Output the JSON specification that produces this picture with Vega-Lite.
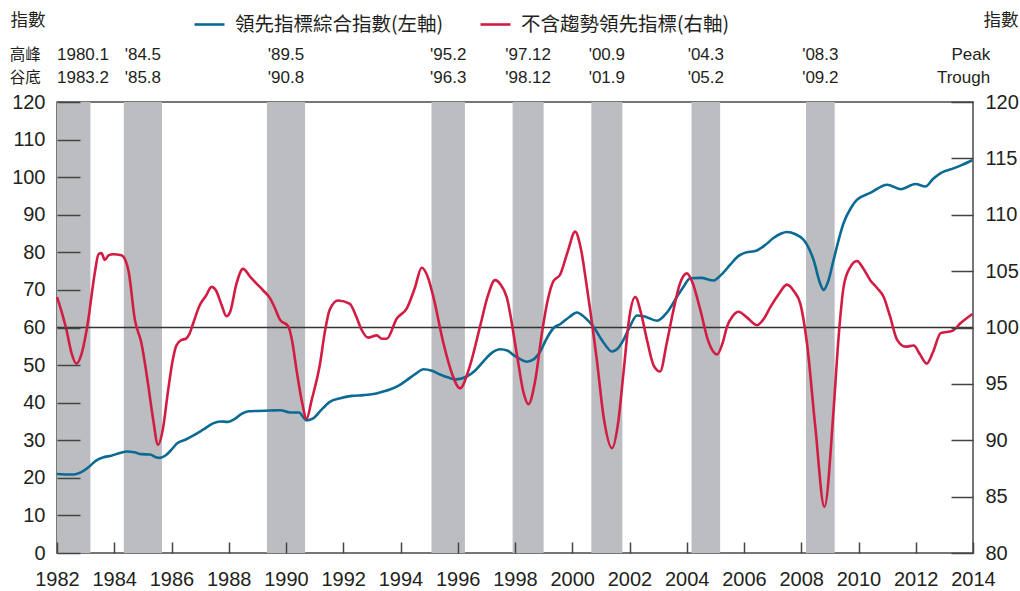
{
  "$schema": "https://vega.github.io/schema/vega-lite/v6.json",
  "width": 916,
  "height": 451,
  "autosize": {"type": "none"},
  "padding": {"left": 57, "top": 102, "right": 47, "bottom": 38},
  "config": {
    "view": {"stroke": "#4a4a4a", "strokeWidth": 1.5},
    "font": "Liberation Sans",
    "axis": {"grid": false, "domain": false, "labelFont": "Liberation Sans", "labelFontSize": 20, "labelColor": "#231f20", "labelOverlap": false}
  },
  "datasets": {
    "one": [{}],
    "bands": [
      {"peak": "1980.1", "trough": "1983.2", "start": 1980.0, "end": 1983.167},
      {"peak": "'84.5", "trough": "'85.8", "start": 1984.333, "end": 1985.667},
      {"peak": "'89.5", "trough": "'90.8", "start": 1989.333, "end": 1990.667},
      {"peak": "'95.2", "trough": "'96.3", "start": 1995.083, "end": 1996.25},
      {"peak": "'97.12", "trough": "'98.12", "start": 1997.917, "end": 1999.0},
      {"peak": "'00.9", "trough": "'01.9", "start": 2000.667, "end": 2001.75},
      {"peak": "'04.3", "trough": "'05.2", "start": 2004.167, "end": 2005.167},
      {"peak": "'08.3", "trough": "'09.2", "start": 2008.167, "end": 2009.167}
    ],
    "cli": [
      {"t": 1982.0, "v": 21.0}, {"t": 1982.3, "v": 20.9}, {"t": 1982.6, "v": 20.9}, {"t": 1982.85, "v": 21.5},
      {"t": 1983.1, "v": 22.8}, {"t": 1983.35, "v": 24.5}, {"t": 1983.6, "v": 25.4}, {"t": 1983.9, "v": 25.9},
      {"t": 1984.2, "v": 26.6}, {"t": 1984.45, "v": 27.0}, {"t": 1984.7, "v": 26.8}, {"t": 1984.95, "v": 26.3},
      {"t": 1985.25, "v": 26.2}, {"t": 1985.45, "v": 25.5}, {"t": 1985.6, "v": 25.3}, {"t": 1985.8, "v": 26.0},
      {"t": 1986.0, "v": 27.5}, {"t": 1986.2, "v": 29.2}, {"t": 1986.5, "v": 30.2}, {"t": 1986.8, "v": 31.4},
      {"t": 1987.1, "v": 32.8}, {"t": 1987.45, "v": 34.5}, {"t": 1987.7, "v": 35.0}, {"t": 1987.98, "v": 34.9},
      {"t": 1988.2, "v": 35.6}, {"t": 1988.45, "v": 37.0}, {"t": 1988.7, "v": 37.7}, {"t": 1989.0, "v": 37.8},
      {"t": 1989.44, "v": 37.9}, {"t": 1989.8, "v": 38.0}, {"t": 1990.14, "v": 37.4}, {"t": 1990.45, "v": 37.4},
      {"t": 1990.72, "v": 35.3}, {"t": 1990.95, "v": 35.8}, {"t": 1991.2, "v": 37.8}, {"t": 1991.53, "v": 40.2},
      {"t": 1991.9, "v": 41.2}, {"t": 1992.3, "v": 41.8}, {"t": 1992.7, "v": 42.0}, {"t": 1993.05, "v": 42.3},
      {"t": 1993.4, "v": 43.0}, {"t": 1993.63, "v": 43.5}, {"t": 1993.95, "v": 44.6}, {"t": 1994.22, "v": 46.0},
      {"t": 1994.55, "v": 47.8}, {"t": 1994.8, "v": 48.9}, {"t": 1995.1, "v": 48.5}, {"t": 1995.38, "v": 47.5},
      {"t": 1995.7, "v": 46.6}, {"t": 1995.96, "v": 46.2}, {"t": 1996.3, "v": 46.9}, {"t": 1996.6, "v": 48.5},
      {"t": 1996.9, "v": 51.0}, {"t": 1997.2, "v": 53.3}, {"t": 1997.48, "v": 54.2}, {"t": 1997.75, "v": 53.8},
      {"t": 1997.94, "v": 52.7}, {"t": 1998.2, "v": 51.5}, {"t": 1998.41, "v": 50.9}, {"t": 1998.65, "v": 51.5},
      {"t": 1998.88, "v": 53.6}, {"t": 1999.1, "v": 57.0}, {"t": 1999.34, "v": 59.8}, {"t": 1999.6, "v": 61.0},
      {"t": 1999.9, "v": 62.8}, {"t": 2000.16, "v": 64.0}, {"t": 2000.45, "v": 62.6}, {"t": 2000.74, "v": 60.2},
      {"t": 2001.05, "v": 56.5}, {"t": 2001.39, "v": 53.6}, {"t": 2001.6, "v": 54.5}, {"t": 2001.79, "v": 56.7},
      {"t": 2002.0, "v": 60.0}, {"t": 2002.26, "v": 63.2}, {"t": 2002.5, "v": 63.0}, {"t": 2002.96, "v": 61.8},
      {"t": 2003.31, "v": 64.0}, {"t": 2003.66, "v": 68.2}, {"t": 2003.9, "v": 71.0}, {"t": 2004.12, "v": 73.1},
      {"t": 2004.5, "v": 73.2}, {"t": 2004.94, "v": 72.5}, {"t": 2005.2, "v": 74.0}, {"t": 2005.52, "v": 76.7},
      {"t": 2005.8, "v": 79.0}, {"t": 2006.0, "v": 79.8}, {"t": 2006.45, "v": 80.5}, {"t": 2006.75, "v": 82.0},
      {"t": 2007.03, "v": 83.8}, {"t": 2007.3, "v": 85.0}, {"t": 2007.5, "v": 85.4}, {"t": 2007.8, "v": 84.8},
      {"t": 2008.09, "v": 83.3}, {"t": 2008.43, "v": 78.0}, {"t": 2008.67, "v": 71.5}, {"t": 2008.78, "v": 70.0},
      {"t": 2008.95, "v": 72.5}, {"t": 2009.13, "v": 78.0}, {"t": 2009.48, "v": 87.8}, {"t": 2009.75, "v": 92.0},
      {"t": 2009.95, "v": 94.0}, {"t": 2010.41, "v": 95.8}, {"t": 2011.0, "v": 98.0}, {"t": 2011.47, "v": 96.8},
      {"t": 2011.99, "v": 98.2}, {"t": 2012.34, "v": 97.5}, {"t": 2012.6, "v": 99.5}, {"t": 2012.87, "v": 101.1},
      {"t": 2013.34, "v": 102.4}, {"t": 2013.6, "v": 103.2}, {"t": 2013.98, "v": 104.5}
    ],
    "detrended": [
      {"t": 1982.0, "v": 102.7}, {"t": 1982.15, "v": 101.5}, {"t": 1982.33, "v": 99.8}, {"t": 1982.5, "v": 97.8},
      {"t": 1982.68, "v": 96.8}, {"t": 1982.85, "v": 97.6}, {"t": 1982.97, "v": 98.9}, {"t": 1983.1, "v": 100.8},
      {"t": 1983.2, "v": 102.7}, {"t": 1983.33, "v": 105.0}, {"t": 1983.45, "v": 106.5}, {"t": 1983.55, "v": 106.6},
      {"t": 1983.67, "v": 106.0}, {"t": 1983.8, "v": 106.4}, {"t": 1983.96, "v": 106.5}, {"t": 1984.25, "v": 106.4},
      {"t": 1984.4, "v": 105.9}, {"t": 1984.5, "v": 105.0}, {"t": 1984.72, "v": 100.7}, {"t": 1984.95, "v": 98.6},
      {"t": 1985.18, "v": 95.0}, {"t": 1985.35, "v": 92.0}, {"t": 1985.53, "v": 89.6}, {"t": 1985.7, "v": 91.0},
      {"t": 1985.88, "v": 94.4}, {"t": 1986.05, "v": 97.2}, {"t": 1986.17, "v": 98.4}, {"t": 1986.35, "v": 98.9},
      {"t": 1986.5, "v": 99.0}, {"t": 1986.62, "v": 99.4}, {"t": 1986.76, "v": 100.4}, {"t": 1986.99, "v": 102.0},
      {"t": 1987.2, "v": 102.8}, {"t": 1987.4, "v": 103.6}, {"t": 1987.55, "v": 103.3}, {"t": 1987.75, "v": 102.0},
      {"t": 1987.92, "v": 101.0}, {"t": 1988.05, "v": 101.4}, {"t": 1988.27, "v": 103.9}, {"t": 1988.5, "v": 105.2},
      {"t": 1988.75, "v": 104.5}, {"t": 1988.97, "v": 103.9}, {"t": 1989.2, "v": 103.3}, {"t": 1989.44, "v": 102.6},
      {"t": 1989.6, "v": 101.8}, {"t": 1989.79, "v": 100.7}, {"t": 1990.08, "v": 100.1}, {"t": 1990.2, "v": 99.0},
      {"t": 1990.37, "v": 96.2}, {"t": 1990.55, "v": 93.5}, {"t": 1990.72, "v": 91.9}, {"t": 1990.9, "v": 93.6},
      {"t": 1991.19, "v": 96.8}, {"t": 1991.35, "v": 99.5}, {"t": 1991.53, "v": 101.6}, {"t": 1991.82, "v": 102.4},
      {"t": 1992.23, "v": 102.1}, {"t": 1992.45, "v": 101.0}, {"t": 1992.64, "v": 99.8}, {"t": 1992.87, "v": 99.1},
      {"t": 1993.17, "v": 99.3}, {"t": 1993.35, "v": 99.0}, {"t": 1993.52, "v": 99.0}, {"t": 1993.87, "v": 100.8},
      {"t": 1994.22, "v": 101.7}, {"t": 1994.5, "v": 103.5}, {"t": 1994.74, "v": 105.3}, {"t": 1994.95, "v": 104.5},
      {"t": 1995.15, "v": 102.7}, {"t": 1995.5, "v": 98.6}, {"t": 1995.8, "v": 95.9}, {"t": 1996.08, "v": 94.6},
      {"t": 1996.4, "v": 96.4}, {"t": 1996.78, "v": 100.1}, {"t": 1997.05, "v": 102.8}, {"t": 1997.3, "v": 104.2},
      {"t": 1997.5, "v": 103.8}, {"t": 1997.71, "v": 102.7}, {"t": 1998.06, "v": 97.7}, {"t": 1998.3, "v": 94.2},
      {"t": 1998.47, "v": 93.2}, {"t": 1998.7, "v": 95.2}, {"t": 1998.94, "v": 99.5}, {"t": 1999.15, "v": 102.5},
      {"t": 1999.34, "v": 104.1}, {"t": 1999.58, "v": 104.7}, {"t": 1999.85, "v": 106.8}, {"t": 2000.1, "v": 108.5},
      {"t": 2000.3, "v": 107.0}, {"t": 2000.51, "v": 103.6}, {"t": 2000.86, "v": 97.1}, {"t": 2001.1, "v": 92.0},
      {"t": 2001.39, "v": 89.3}, {"t": 2001.6, "v": 91.5}, {"t": 2001.79, "v": 96.0}, {"t": 2002.0, "v": 101.0},
      {"t": 2002.2, "v": 102.7}, {"t": 2002.4, "v": 101.3}, {"t": 2002.61, "v": 98.9}, {"t": 2002.85, "v": 96.6},
      {"t": 2003.07, "v": 96.1}, {"t": 2003.3, "v": 98.6}, {"t": 2003.54, "v": 101.6}, {"t": 2003.75, "v": 103.8},
      {"t": 2004.0, "v": 104.8}, {"t": 2004.2, "v": 104.0}, {"t": 2004.47, "v": 101.6}, {"t": 2004.75, "v": 98.8},
      {"t": 2005.06, "v": 97.6}, {"t": 2005.25, "v": 98.6}, {"t": 2005.41, "v": 100.1}, {"t": 2005.6, "v": 101.0},
      {"t": 2005.81, "v": 101.4}, {"t": 2006.1, "v": 100.9}, {"t": 2006.45, "v": 100.2}, {"t": 2006.7, "v": 100.8},
      {"t": 2006.92, "v": 101.8}, {"t": 2007.2, "v": 102.9}, {"t": 2007.5, "v": 103.8}, {"t": 2007.75, "v": 103.2},
      {"t": 2007.97, "v": 102.1}, {"t": 2008.2, "v": 98.6}, {"t": 2008.49, "v": 91.2}, {"t": 2008.81, "v": 84.1},
      {"t": 2009.13, "v": 92.7}, {"t": 2009.3, "v": 99.0}, {"t": 2009.48, "v": 103.6}, {"t": 2009.7, "v": 105.3},
      {"t": 2009.95, "v": 105.9}, {"t": 2010.15, "v": 105.3}, {"t": 2010.41, "v": 104.2}, {"t": 2010.65, "v": 103.5},
      {"t": 2010.88, "v": 102.7}, {"t": 2011.1, "v": 101.0}, {"t": 2011.35, "v": 98.9}, {"t": 2011.64, "v": 98.3},
      {"t": 2011.93, "v": 98.4}, {"t": 2012.15, "v": 97.6}, {"t": 2012.38, "v": 96.8}, {"t": 2012.6, "v": 97.8},
      {"t": 2012.87, "v": 99.5}, {"t": 2013.28, "v": 99.7}, {"t": 2013.57, "v": 100.4}, {"t": 2013.98, "v": 101.2}
    ]
  },
  "layer": [
    {
      "data": {"name": "bands"},
      "mark": {"type": "rect", "color": "#bcbdc1", "clip": true},
      "encoding": {
        "x": {"field": "start", "type": "quantitative", "scale": {"domain": [1982, 2014], "nice": false, "zero": false}, "axis": null},
        "x2": {"field": "end"}
      }
    },
    {
      "data": {"name": "one"},
      "mark": {"type": "rule", "color": "#333333", "strokeWidth": 1.3},
      "encoding": {
        "y": {"datum": 60, "type": "quantitative", "scale": {"domain": [0, 120], "nice": false, "zero": false}, "axis": null}
      }
    },
    {
      "data": {"name": "cli"},
      "mark": {"type": "line", "strokeWidth": 2.6, "interpolate": "monotone"},
      "encoding": {
        "x": {"field": "t", "type": "quantitative", "scale": {"domain": [1982, 2014], "nice": false, "zero": false},
          "axis": {"orient": "bottom", "values": [1982,1984,1986,1988,1990,1992,1994,1996,1998,2000,2002,2004,2006,2008,2010,2012,2014], "format": "d", "title": null, "offset": -11, "ticks": true, "tickSize": 11, "tickColor": "#444444", "tickWidth": 1.5, "tickOpacity": 1, "zindex": 2, "labelPadding": 16, "labelFlush": false}},
        "y": {"field": "v", "type": "quantitative", "scale": {"domain": [0, 120], "nice": false, "zero": false},
          "axis": {"orient": "left", "values": [0,10,20,30,40,50,60,70,80,90,100,110,120], "offset": -23, "ticks": true, "tickSize": 23, "tickColor": "#444444", "tickWidth": 1.5, "tickOpacity": 1, "zindex": 2, "labelPadding": 12, "labelBaseline": "middle", "title": "指數", "titleAngle": 0, "titleX": -70, "titleY": -82, "titleAlign": "left", "titleBaseline": "middle", "titleFont": "Noto Sans CJK TC", "titleFontSize": 17.5, "titleFontWeight": "normal", "titleColor": "#231f20"}},
        "color": {"datum": "領先指標綜合指數(左軸)", "type": "nominal",
          "scale": {"domain": ["領先指標綜合指數(左軸)", "不含趨勢領先指標(右軸)"], "range": ["#0b6a94", "#d11d43"]},
          "legend": {"orient": "none", "legendX": 136, "legendY": -94, "direction": "horizontal", "title": null, "symbolType": "stroke", "symbolSize": 900, "symbolStrokeWidth": 2.6, "labelFont": "Noto Sans CJK TC", "labelFontSize": 19.5, "labelColor": "#231f20", "labelOffset": 9, "columnPadding": 31, "labelLimit": 400}}
      }
    },
    {
      "data": {"name": "detrended"},
      "mark": {"type": "line", "strokeWidth": 2.6, "interpolate": "monotone"},
      "encoding": {
        "x": {"field": "t", "type": "quantitative", "scale": {"domain": [1982, 2014], "nice": false, "zero": false}, "axis": null},
        "y": {"field": "v", "type": "quantitative", "scale": {"domain": [80, 120], "nice": false, "zero": false},
          "axis": {"orient": "right", "values": [80,85,90,95,100,105,110,115,120], "offset": -22, "ticks": true, "tickSize": 22, "tickColor": "#444444", "tickWidth": 1.5, "tickOpacity": 1, "zindex": 2, "labelPadding": 12, "labelBaseline": "middle", "title": "指數", "titleAngle": 0, "titleX": 67, "titleY": -82, "titleAlign": "right", "titleBaseline": "middle", "titleFont": "Noto Sans CJK TC", "titleFontSize": 17.5, "titleFontWeight": "normal", "titleColor": "#231f20"}},
        "color": {"datum": "不含趨勢領先指標(右軸)", "type": "nominal"}
      }
    },
    {
      "data": {"name": "bands"},
      "transform": [{"filter": "datum.start >= 1982"}, {"calculate": "(datum.start + datum.end) / 2", "as": "mid"}],
      "mark": {"type": "text", "align": "center", "baseline": "middle", "fontSize": 17, "font": "Liberation Sans", "color": "#231f20"},
      "encoding": {
        "x": {"field": "mid", "type": "quantitative", "scale": {"domain": [1982, 2014], "nice": false, "zero": false}, "axis": null},
        "y": {"datum": 132.39, "type": "quantitative", "scale": {"domain": [0, 120], "nice": false, "zero": false}, "axis": null},
        "text": {"field": "peak"}
      }
    },
    {
      "data": {"name": "bands"},
      "transform": [{"filter": "datum.start >= 1982"}, {"calculate": "(datum.start + datum.end) / 2", "as": "mid"}],
      "mark": {"type": "text", "align": "center", "baseline": "middle", "fontSize": 17, "font": "Liberation Sans", "color": "#231f20"},
      "encoding": {
        "x": {"field": "mid", "type": "quantitative", "scale": {"domain": [1982, 2014], "nice": false, "zero": false}, "axis": null},
        "y": {"datum": 126.39, "type": "quantitative", "scale": {"domain": [0, 120], "nice": false, "zero": false}, "axis": null},
        "text": {"field": "trough"}
      }
    },
    {
      "data": {"name": "bands"},
      "transform": [{"filter": "datum.start < 1982"}],
      "mark": {"type": "text", "align": "left", "baseline": "middle", "fontSize": 17, "font": "Liberation Sans", "color": "#231f20"},
      "encoding": {
        "x": {"datum": 1982, "type": "quantitative", "scale": {"domain": [1982, 2014], "nice": false, "zero": false}, "axis": null},
        "y": {"datum": 132.39, "type": "quantitative", "scale": {"domain": [0, 120], "nice": false, "zero": false}, "axis": null},
        "text": {"field": "peak"}
      }
    },
    {
      "data": {"name": "bands"},
      "transform": [{"filter": "datum.start < 1982"}],
      "mark": {"type": "text", "align": "left", "baseline": "middle", "fontSize": 17, "font": "Liberation Sans", "color": "#231f20"},
      "encoding": {
        "x": {"datum": 1982, "type": "quantitative", "scale": {"domain": [1982, 2014], "nice": false, "zero": false}, "axis": null},
        "y": {"datum": 126.39, "type": "quantitative", "scale": {"domain": [0, 120], "nice": false, "zero": false}, "axis": null},
        "text": {"field": "trough"}
      }
    },
    {
      "data": {"name": "one"},
      "mark": {"type": "text", "align": "left", "baseline": "middle", "fontSize": 15.5, "font": "Noto Sans CJK TC", "color": "#231f20"},
      "encoding": {
        "x": {"datum": 1980.35, "type": "quantitative", "scale": {"domain": [1982, 2014], "nice": false, "zero": false}, "axis": null},
        "y": {"datum": 132.39, "type": "quantitative", "scale": {"domain": [0, 120], "nice": false, "zero": false}, "axis": null},
        "text": {"datum": "高峰"}
      }
    },
    {
      "data": {"name": "one"},
      "mark": {"type": "text", "align": "left", "baseline": "middle", "fontSize": 15.5, "font": "Noto Sans CJK TC", "color": "#231f20"},
      "encoding": {
        "x": {"datum": 1980.35, "type": "quantitative", "scale": {"domain": [1982, 2014], "nice": false, "zero": false}, "axis": null},
        "y": {"datum": 126.39, "type": "quantitative", "scale": {"domain": [0, 120], "nice": false, "zero": false}, "axis": null},
        "text": {"datum": "谷底"}
      }
    },
    {
      "data": {"name": "one"},
      "mark": {"type": "text", "align": "right", "baseline": "middle", "fontSize": 17, "font": "Liberation Sans", "color": "#231f20"},
      "encoding": {
        "x": {"datum": 2014.6, "type": "quantitative", "scale": {"domain": [1982, 2014], "nice": false, "zero": false}, "axis": null},
        "y": {"datum": 132.39, "type": "quantitative", "scale": {"domain": [0, 120], "nice": false, "zero": false}, "axis": null},
        "text": {"datum": "Peak"}
      }
    },
    {
      "data": {"name": "one"},
      "mark": {"type": "text", "align": "right", "baseline": "middle", "fontSize": 17, "font": "Liberation Sans", "color": "#231f20"},
      "encoding": {
        "x": {"datum": 2014.6, "type": "quantitative", "scale": {"domain": [1982, 2014], "nice": false, "zero": false}, "axis": null},
        "y": {"datum": 126.39, "type": "quantitative", "scale": {"domain": [0, 120], "nice": false, "zero": false}, "axis": null},
        "text": {"datum": "Trough"}
      }
    }
  ],
  "resolve": {"scale": {"x": "independent", "y": "independent"}}
}
